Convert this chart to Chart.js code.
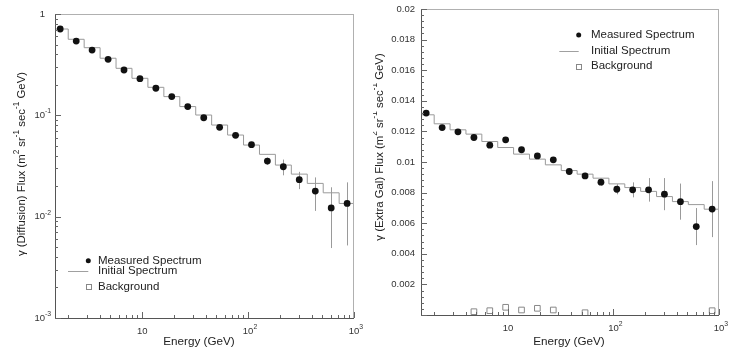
<!DOCTYPE html>
<html><head><meta charset="utf-8">
<script src="https://cdn.jsdelivr.net/npm/chart.js@4/dist/chart.umd.min.js"></script>
<style>
html,body{margin:0;padding:0;background:#fff;width:746px;height:359px;overflow:hidden}
canvas{position:absolute;top:0}
#c1{left:0}#c2{left:373px}
</style></head><body>
<canvas id="c1" width="373" height="359"></canvas>
<canvas id="c2" width="373" height="359"></canvas>
<script>
// ---------- data ----------
const binEdges = [1.414, 2, 2.828, 4, 5.657, 8, 11.31, 16, 22.63, 32, 45.25, 64, 90.51, 128, 181, 256, 362, 512, 724, 1024];
const energies = [1.68, 2.38, 3.36, 4.76, 6.73, 9.51, 13.45, 19.0, 26.9, 38.1, 53.8, 76.1, 107.6, 152, 215, 304, 431, 609, 861];

const diffMeasured = [0.711, 0.541, 0.441, 0.357, 0.280, 0.230, 0.185, 0.153, 0.122, 0.0947, 0.0761, 0.0635, 0.0513, 0.0354, 0.0311, 0.0232, 0.0179, 0.0122, 0.0135];
const diffError    = [0.005, 0.004, 0.003, 0.003, 0.003, 0.002, 0.002, 0.002, 0.0015, 0.0015, 0.0015, 0.002, 0.003, 0.0029, 0.0055, 0.0045, 0.0065, 0.0073, 0.0083];
const diffInitial  = [0.711, 0.563, 0.465, 0.366, 0.291, 0.232, 0.189, 0.153, 0.122, 0.1007, 0.0802, 0.0639, 0.0509, 0.0412, 0.0323, 0.0263, 0.0213, 0.0172, 0.0135];
const diffBgEnergies = [];
const diffBackground = [];

const egMeasured = [0.01320, 0.01225, 0.01197, 0.01160, 0.01110, 0.01145, 0.01080, 0.01040, 0.01014, 0.00938, 0.00909, 0.00868, 0.00822, 0.00818, 0.00818, 0.00790, 0.00741, 0.00578, 0.00692];
const egError    = [0.0001, 0.0001, 0.0001, 0.0001, 0.0001, 0.0001, 0.00012, 0.00012, 0.00015, 0.00015, 0.0002, 0.00023, 0.00033, 0.00049, 0.00077, 0.00105, 0.00118, 0.00121, 0.00183];
const egInitial  = [0.013085, 0.012496, 0.012103, 0.011822, 0.011338, 0.010946, 0.010514, 0.010187, 0.009814, 0.009441, 0.009205, 0.008943, 0.008571, 0.008329, 0.008080, 0.007740, 0.007412, 0.007216, 0.006915];
const egBgEnergies = [4.76, 6.73, 9.51, 13.45, 19.0, 26.9, 53.8, 861];
const egBackground = [0.000216, 0.000281, 0.000504, 0.000327, 0.000438, 0.000327, 0.00015, 0.000281];

const xTickValues = [10, 100, 1000];
const xTickLabels = [['10', ''], ['10', '2'], ['10', '3']];
const diffYTickValues = [0.001, 0.01, 0.1, 1];
const diffYTickLabels = [['10', '-3'], ['10', '-2'], ['10', '-1'], ['1', '']];
const egYTickValues = [0.002, 0.004, 0.006, 0.008, 0.01, 0.012, 0.014, 0.016, 0.018, 0.02];
const egYTickLabels = [['0.002', ''], ['0.004', ''], ['0.006', ''], ['0.008', ''], ['0.01', ''], ['0.012', ''], ['0.014', ''], ['0.016', ''], ['0.018', ''], ['0.02', '']];
const legendLabels = ['Measured Spectrum', 'Initial Spectrum', 'Background'];
const xTitle = 'Energy (GeV)';
const diffYTitle = [['γ (Diffusion) Flux (m', 0], ['2', 1], [' sr', 0], ['-1', 1], [' sec', 0], ['-1', 1], [' GeV)', 0]];
const egYTitle = [['γ (Extra Gal) Flux (m', 0], ['2', 1], [' sr', 0], ['-1', 1], [' sec', 0], ['-1', 1], [' GeV)', 0]];

// ---------- drawing helpers ----------
const FONT = '"Liberation Sans", Arial, Helvetica, sans-serif';
function richText(ctx, parts, x, y, mode, size, color) {
  const ss = size * 0.72;
  const widths = parts.map(([t, s]) => { ctx.font = (s ? ss : size) + 'px ' + FONT; return ctx.measureText(t).width; });
  const total = widths.reduce((a, b) => a + b, 0);
  let cx;
  if (mode === 'center') cx = x - total / 2;
  else if (mode === 'baseCenter') cx = x - widths[0] / 2;
  else if (mode === 'baseRight') cx = x - widths[0];
  else if (mode === 'right') cx = x - total;
  else cx = x;
  ctx.fillStyle = color; ctx.textAlign = 'left'; ctx.textBaseline = 'middle';
  parts.forEach(([t, s], i) => {
    if (!t) return;
    ctx.font = (s ? ss : size) + 'px ' + FONT;
    ctx.fillText(t, cx, s ? y - size * 0.42 : y);
    cx += widths[i];
  });
}
function seg(ctx, x0, y0, x1, y1) { ctx.beginPath(); ctx.moveTo(x0, y0); ctx.lineTo(x1, y1); ctx.stroke(); }

function makeFramePlugin(cfg) {
  return {
    id: 'frame',
    beforeDatasetsDraw(chart) {
      const ctx = chart.ctx, xs = chart.scales.x, ys = chart.scales.y, a = chart.chartArea;
      ctx.save();
      ctx.beginPath(); ctx.rect(a.left, a.top, a.right - a.left, a.bottom - a.top); ctx.clip();
      ctx.strokeStyle = '#9a9a9a'; ctx.lineWidth = 1;
      cfg.energies.forEach((e, i) => {
        const v = cfg.values[i], err = cfg.errors[i];
        const px = Math.round(xs.getPixelForValue(e)) + 0.5;
        const lo = Math.max(v - err, ys.min);
        seg(ctx, px, ys.getPixelForValue(v + err), px, ys.getPixelForValue(lo));
      });
      ctx.restore();
    },
    afterDraw(chart) {
      const ctx = chart.ctx, xs = chart.scales.x, ys = chart.scales.y, a = chart.chartArea;
      ctx.save();
      ctx.lineWidth = 1;
      // frame
      ctx.strokeStyle = '#b0b0b0';
      seg(ctx, a.left, a.top + 0.5, a.right, a.top + 0.5);
      seg(ctx, a.right - 0.5, a.top, a.right - 0.5, a.bottom);
      ctx.strokeStyle = '#555';
      seg(ctx, a.left + 0.5, a.top, a.left + 0.5, a.bottom + 0.5);
      seg(ctx, a.left, a.bottom + 0.5, a.right, a.bottom + 0.5);
      // x ticks (log)
      ctx.strokeStyle = '#666';
      const x0 = Math.floor(Math.log10(xs.min)), x1 = Math.ceil(Math.log10(xs.max));
      for (let p = x0; p <= x1; p++) for (let k = 1; k <= 9; k++) {
        const v = k * Math.pow(10, p);
        if (v < xs.min * 0.999 || v > xs.max * 1.001) continue;
        const px = Math.round(xs.getPixelForValue(v)) + 0.5;
        seg(ctx, px, a.bottom, px, a.bottom - (k === 1 ? 6 : 3));
      }
      // y ticks
      if (cfg.yLog) {
        const y0 = Math.floor(Math.log10(ys.min)), y1 = Math.ceil(Math.log10(ys.max));
        for (let p = y0; p <= y1; p++) for (let k = 1; k <= 9; k++) {
          const v = k * Math.pow(10, p);
          if (v < ys.min * 0.999 || v > ys.max * 1.001) continue;
          const py = Math.round(ys.getPixelForValue(v)) + 0.5;
          seg(ctx, a.left, py, a.left + (k === 1 ? 6 : 3), py);
        }
      } else {
        for (let i = 0; i <= 50; i++) {
          const v = i * 0.0004;
          if (v > ys.max + 1e-9) break;
          const py = Math.round(ys.getPixelForValue(v)) + 0.5;
          seg(ctx, a.left, py, a.left + (i % 5 === 0 ? 6 : 3), py);
        }
      }
      // tick labels
      xTickValues.forEach((v, i) => {
        richText(ctx, [[xTickLabels[i][0], 0], [xTickLabels[i][1], 1]], xs.getPixelForValue(v), a.bottom + 13.5, 'baseCenter', 9.5, '#333');
      });
      cfg.yTickValues.forEach((v, i) => {
        const py = ys.getPixelForValue(v);
        if (cfg.yLog) richText(ctx, [[cfg.yTickLabels[i][0], 0], [cfg.yTickLabels[i][1], 1]], a.left - 10, py, 'baseRight', 9.5, '#333');
        else richText(ctx, [[cfg.yTickLabels[i][0], 0]], a.left - 6, py, 'right', 9.5, '#333');
      });
      // axis titles
      richText(ctx, [[xTitle, 0]], cfg.xTitlePos[0], cfg.xTitlePos[1], 'center', 11.7, '#222');
      ctx.save();
      ctx.translate(cfg.yTitlePos[0], cfg.yTitlePos[1]);
      ctx.rotate(-Math.PI / 2);
      richText(ctx, cfg.yTitle, 0, 0, 'center', 11.4, '#222');
      ctx.restore();
      // legend
      const L = cfg.legend;
      ctx.fillStyle = '#111';
      ctx.beginPath(); ctx.arc(L.symX, L.rows[0], 2.5, 0, Math.PI * 2); ctx.fill();
      ctx.strokeStyle = '#a0a0a0';
      seg(ctx, L.lineX0, Math.round(L.rows[1]) + 0.5, L.symX, Math.round(L.rows[1]) + 0.5);
      ctx.strokeStyle = '#888';
      ctx.strokeRect(Math.round(L.symX - 2.5) + 0.5, Math.round(L.rows[2] - 2.5) + 0.5, 5, 5);
      chart.data.datasets.forEach((d, i) => richText(ctx, [[d.label, 0]], L.textX, L.rows[i], 'left', 11.5, '#222'));
      ctx.restore();
    }
  };
}

function histData(edges, levels) {
  const d = levels.map((v, i) => ({x: edges[i], y: v}));
  d.push({x: edges[levels.length], y: levels[levels.length - 1]});
  return d;
}
function pts(xs, ys) { return ys.map((v, i) => ({x: xs[i], y: v})); }

function makeChart(id, o) {
  return new Chart(document.getElementById(id), {
    type: 'scatter',
    data: {
      datasets: [
        {label: legendLabels[0], data: pts(energies, o.values), pointRadius: 3.4, pointBackgroundColor: '#111', pointBorderColor: '#111', pointBorderWidth: 0, showLine: false},
        {label: legendLabels[1], data: histData(binEdges, o.initial), showLine: true, stepped: 'before', borderColor: '#9a9a9a', borderWidth: 1, pointRadius: 0, fill: false},
        {label: legendLabels[2], data: pts(o.bgX, o.bgY), pointStyle: 'rect', pointRadius: 4, pointBackgroundColor: 'rgba(0,0,0,0)', pointBorderColor: '#888', pointBorderWidth: 1, showLine: false}
      ]
    },
    options: {
      responsive: false, animation: false, devicePixelRatio: 1,
      layout: {padding: o.padding},
      scales: {
        x: {type: 'logarithmic', min: 1.5, max: 1000, display: false},
        y: o.yScale
      },
      plugins: {legend: {display: false}, tooltip: {enabled: false}}
    },
    plugins: [makeFramePlugin(o)]
  });
}

makeChart('c1', {
  values: diffMeasured, errors: diffError, initial: diffInitial, energies: energies,
  bgX: diffBgEnergies, bgY: diffBackground,
  padding: {left: 55, right: 19, top: 14, bottom: 41},
  yScale: {type: 'logarithmic', min: 0.001, max: 1, display: false},
  yLog: true, yTickValues: diffYTickValues, yTickLabels: diffYTickLabels,
  yTitle: diffYTitle, yTitlePos: [22, 164], xTitlePos: [199, 342],
  legend: {symX: 88.3, lineX0: 68, textX: 98, rows: [260.7, 270.7, 286.7]}
});
makeChart('c2', {
  values: egMeasured, errors: egError, initial: egInitial, energies: energies,
  bgX: egBgEnergies, bgY: egBackground,
  padding: {left: 48, right: 27, top: 9, bottom: 44},
  yScale: {type: 'linear', min: 0, max: 0.02, display: false},
  yLog: false, yTickValues: egYTickValues, yTickLabels: egYTickLabels,
  yTitle: egYTitle, yTitlePos: [7, 147], xTitlePos: [196, 342],
  legend: {symX: 205.7, lineX0: 186.3, textX: 218, rows: [35, 50.7, 66]}
});
</script>
</body></html>
